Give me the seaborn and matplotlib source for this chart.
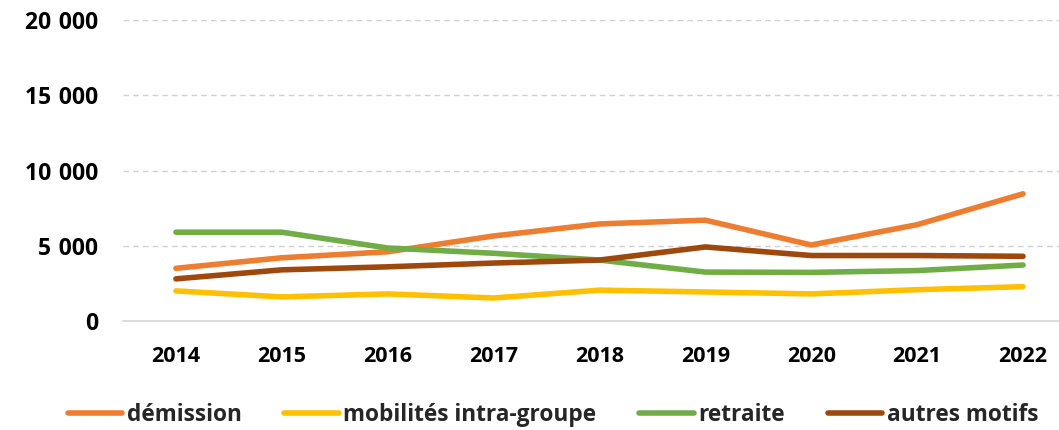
import numpy as np
import pandas as pd
import matplotlib
matplotlib.use("Agg")
import matplotlib.pyplot as plt
from matplotlib.ticker import FuncFormatter
import seaborn as sns

# Values
years = [2014, 2015, 2016, 2017, 2018, 2019, 2020, 2021, 2022]
demission = [3500, 4200, 4600, 5650, 6450, 6700, 5050, 6400, 8450]
mobilites = [2000, 1600, 1800, 1530, 2050, 1930, 1800, 2080, 2280]
retraite = [5900, 5900, 4850, 4500, 4050, 3250, 3230, 3350, 3720]
autres = [2800, 3400, 3600, 3850, 4050, 4920, 4350, 4350, 4300]

series_names = ["démission", "mobilités intra-groupe", "retraite", "autres motifs"]
colors = ["#ED7D31", "#FFC000", "#70AD47", "#9E480E"]

df = pd.DataFrame({
    "year": years * 4,
    "value": demission + mobilites + retraite + autres,
    "motif": np.repeat(series_names, len(years)),
})

sns.set_style("white")
plt.rcParams['font.family'] = ['Open Sans', 'DejaVu Sans']

fig = plt.figure(figsize=(10.59, 4.30), dpi=100)
ax = fig.add_axes([123 / 1059, 109 / 430, 953 / 1059, 301 / 430])

sns.lineplot(data=df, x="year", y="value", hue="motif", hue_order=series_names,
             palette=colors, linewidth=4, ax=ax, legend=False,
             solid_capstyle="round")

ax.set_xlim(2013.5, 2022.5)
ax.set_ylim(0, 20000)
ax.set_yticks([0, 5000, 10000, 15000, 20000])
ax.set_xticks(years)
ax.yaxis.set_major_formatter(FuncFormatter(lambda v, p: f"{int(v):,}".replace(",", "\u2004")))

ax.grid(axis="y", color="#D0D0D0", linestyle=(0, (4, 3)), linewidth=1)
ax.set_axisbelow(True)
for s in ["top", "right", "left"]:
    ax.spines[s].set_visible(False)
ax.spines["bottom"].set_color("#D9D9D9")
ax.spines["bottom"].set_linewidth(1.3)

ax.tick_params(axis="both", length=0, colors="black")
ax.tick_params(axis="y", pad=18, labelsize=16.5)
ax.tick_params(axis="x", pad=18, labelsize=15.5)
for lbl in ax.get_xticklabels() + ax.get_yticklabels():
    lbl.set_fontweight("bold")
ax.set_xlabel("")
ax.set_ylabel("")

handles = [plt.Line2D([0], [0], color=c, linewidth=4, solid_capstyle="round") for c in colors]
fig.legend(handles, series_names, loc="center", bbox_to_anchor=(553 / 1059, 15 / 430),
           ncol=4, frameon=False, handlelength=2.4, handletextpad=0.2,
           columnspacing=1.9, prop={"weight": "bold", "size": 16.3})

fig.savefig("out.png", dpi=100)
